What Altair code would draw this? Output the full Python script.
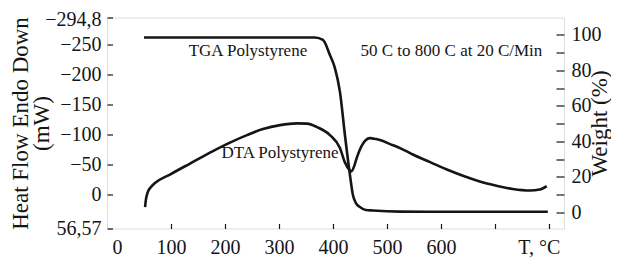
import altair as alt
import pandas as pd

# DTA curve (left axis, heat flow, mW)
dta_temp = [52, 53.5, 57, 63, 70.4, 98.1, 135.2, 177.8, 209.3, 240.7, 270.4, 301.9, 333.3,
            351.9, 370.4, 394.4, 413, 422, 431, 434, 440, 444, 454, 461, 468, 480, 487, 506,
            530, 548, 580, 611, 642, 672, 703, 733, 765, 783, 796]
dta_heat = [21, 9, -4, -12.5, -19.1, -33.3, -51.6, -72.4, -86.5, -99.0, -109.0, -115.6,
            -118.5, -118.1, -112.3, -99.0, -77.4, -54, -40.8, -38.5, -49, -60.7, -82.4,
            -90.7, -94, -92.3, -90.7, -84, -74.9, -66.6, -54, -41.6, -30.8, -21.6, -14.6,
            -9.2, -6.7, -8.3, -14.1]

# TGA curve (right axis, weight %)
tga_temp = [50, 200, 366.7, 381.5, 394.4, 403.7, 413, 422.2, 431.5, 437, 442.6, 450, 461,
            474, 524, 650, 798]
tga_weight = [98.6, 98.6, 98.6, 97.2, 88.7, 81.3, 67.9, 43.6, 21.1, 9.8, 5.2, 3.0, 1.3,
              1.0, 0.4, 0.3, 0.3]

temp_ticks = [0, 100, 200, 300, 400, 500, 600, 700, 800]
heat_ticks = [-294.8, -250, -200, -150, -100, -50, 0, 56.57]
weight_ticks = [0, 10, 20, 30, 40, 50, 60, 70, 80, 90, 100]

note_text = ["TGA Polystyrene", "50 C to 800 C at 20 C/Min", "DTA Polystyrene"]
note_temp = [242.6, 619.4, 301.9]
note_heat = [-238.8, -238.8, -69]

FONT = "Liberation Serif"
INK = "#151515"
W, H = 457, 211

dta_df = pd.DataFrame({"t": dta_temp, "v": dta_heat})
tga_df = pd.DataFrame({"t": tga_temp, "w": tga_weight})
notes_df = pd.DataFrame({"t": note_temp, "v": note_heat, "label": note_text})

x_scale = alt.Scale(domain=[-18.5, 828], nice=False, zero=False)
yl_scale = alt.Scale(domain=[-294.8, 56.57], reverse=True, nice=False, zero=False)
yr_scale = alt.Scale(domain=[-9.14, 109.87], nice=False, zero=False)

x_axis = alt.Axis(
    values=temp_ticks, title=None, domain=False, ticks=False, tickSize=0,
    labelPadding=9, labelFont=FONT, labelFontSize=20, labelColor=INK,
    labelFlush=False, labelOverlap=False,
    labelExpr="datum.value === 800 ? 'T, °C' : (datum.value === 700 ? '' : datum.label)",
    labelOffset={"condition": {"test": "datum.value === 800", "value": -10}, "value": 0},
    grid=True, gridDash=[5, 1000], gridColor=INK, gridWidth=1.2,
    gridOpacity={"condition": {"test": "datum.value === 0", "value": 0}, "value": 1},
)

yl_axis = alt.Axis(
    values=heat_ticks, format=".2~f", labelExpr="replace(datum.label, '.', ',')",
    title=["Heat Flow Endo Down", "(mW)"], domain=False, ticks=False, tickSize=0,
    labelPadding=6, labelFont=FONT, labelFontSize=20, labelColor=INK,
    labelFlush=False, labelOverlap=False,
    labelOffset={"condition": {"test": "datum.value < -290", "value": 2}, "value": 0},
    grid=True, gridDash=[5.5, 1000], gridColor=INK, gridWidth=1.2,
    titleFont=FONT, titleFontSize=23, titleFontWeight="normal", titleColor=INK,
    titleAngle=270, titleX=-87, titleY=H / 2, titleAlign="center",
    titleBaseline="middle", titleLineHeight=21,
)

yr_axis = alt.Axis(
    orient="right", values=weight_ticks,
    labelExpr="datum.value % 20 === 0 ? datum.label : ''",
    title="Weight (%)", domain=False, ticks=False, tickSize=0,
    labelPadding=7, labelFont=FONT, labelFontSize=20, labelColor=INK,
    labelFlush=False, labelOverlap=False,
    grid=True, gridDash=[8, 1000], gridColor=INK, gridWidth=1.2,
    titleFont=FONT, titleFontSize=23, titleFontWeight="normal", titleColor=INK,
    titleAngle=270, titleX=35, titleY=H / 2, titleAlign="center",
    titleBaseline="middle",
)

dta = alt.Chart(dta_df).mark_line(color=INK, strokeWidth=2.6, interpolate="monotone").encode(
    x=alt.X("t:Q", scale=x_scale, axis=x_axis),
    y=alt.Y("v:Q", scale=yl_scale, axis=yl_axis),
)

notes = alt.Chart(notes_df).mark_text(font=FONT, fontSize=17, color=INK, baseline="middle").encode(
    x=alt.X("t:Q", scale=x_scale, axis=x_axis),
    y=alt.Y("v:Q", scale=yl_scale, axis=yl_axis),
    text="label:N",
)

tga = alt.Chart(tga_df).mark_line(color=INK, strokeWidth=2.6, interpolate="monotone").encode(
    x=alt.X("t:Q", scale=x_scale, axis=x_axis),
    y=alt.Y("w:Q", scale=yr_scale, axis=yr_axis),
)

chart = alt.layer(alt.layer(dta, notes), tga).resolve_scale(y="independent").properties(
    width=W, height=H,
    autosize=alt.AutoSizeParams(type="none"),
    padding={"left": 99, "top": 9.5, "right": 47, "bottom": 30.5},
).configure_view(stroke=INK, strokeWidth=1.3).configure(background="white")

chart.save("out.html", embed_options={"renderer": "svg", "actions": False})
